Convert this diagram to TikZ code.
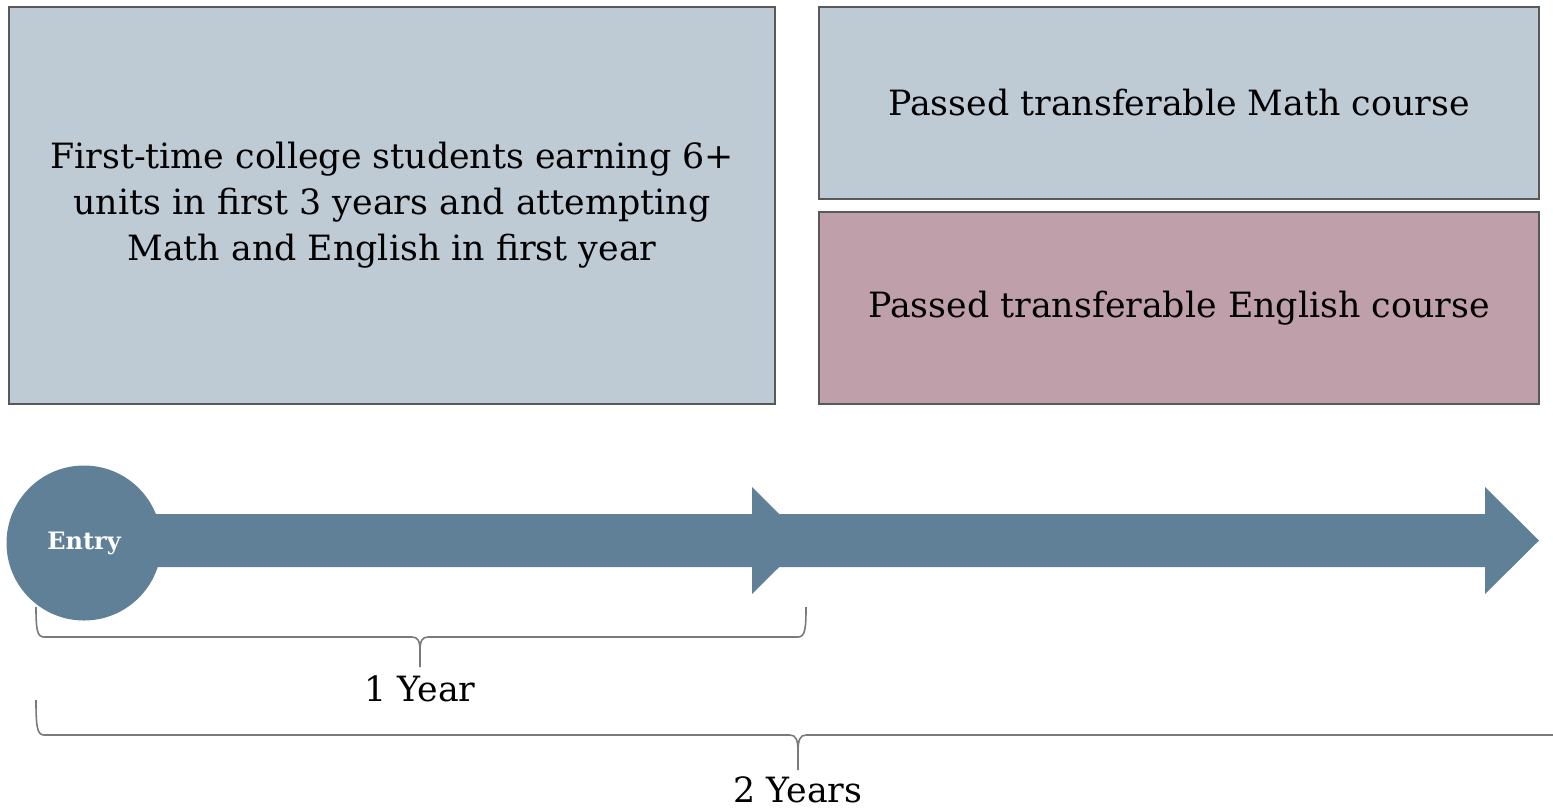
\documentclass[tikz,border=0pt]{standalone}
\usepackage{fontspec}
\setmainfont{DejaVu Serif}
\usepackage{xcolor}
\usetikzlibrary{positioning,calc}

\definecolor{boxblue}{HTML}{BECBD5}
\definecolor{boxpink}{HTML}{BE9FAA}
\definecolor{boxline}{HTML}{595959}
\definecolor{arrowblue}{HTML}{5F8096}
\definecolor{braceline}{HTML}{7A7A7A}

\begin{document}
\begin{tikzpicture}[x=0.5pt, y=-0.5pt,
    box/.style={draw=boxline, line width=1.1pt, rectangle, align=center, font=\fontsize{17.4}{23}\selectfont, inner sep=0pt},
    brace/.style={draw=braceline, line width=0.8pt},
    label/.style={font=\fontsize{17.4}{23}\selectfont, inner sep=0pt}]
    \useasboundingbox (0,0) rectangle (1553,810);

    \node [box, fill=boxblue, minimum width=383pt, minimum height=198.5pt] (cohort) at (392,205.5)
        {First-time college students earning 6+\\units in first 3 years and attempting\\Math and English in first year};
    \node [box, fill=boxblue, minimum width=360pt, minimum height=96pt] (math) at (1179,103) {Passed transferable Math course};
    \node [box, fill=boxpink, minimum width=360pt, minimum height=96pt] (english) at (1179,308) {Passed transferable English course};

    \fill [arrowblue] (84,514) -- (752,514) -- (752,487) -- (806,540.5) -- (752,594) -- (752,567) -- (84,567) -- cycle;
    \fill [arrowblue] (779,514) -- (1485,514) -- (1485,487) -- (1539,540.5) -- (1485,594) -- (1485,567) -- (779,567) -- cycle;
    \node [circle, fill=arrowblue, minimum size=77.5pt, inner sep=0pt, text=white, font=\fontsize{12}{14}\selectfont\bfseries] (entry) at (84,543) {Entry};

    \coordinate (yearA) at (36,607);
    \coordinate (yearB) at (806,607);
    \coordinate (yearTip) at (420,667);
    \draw [brace] (yearA) .. controls ($(yearA)+(0,22)$) and ($(yearA)+(1,30)$) .. ($(yearA)+(8,30)$)
        -- ($(yearTip)+(-8,-30)$) .. controls ($(yearTip)+(-2,-30)$) and ($(yearTip)+(0,-26)$) .. ($(yearTip)+(0,-16)$)
        -- (yearTip);
    \draw [brace] ($(yearTip)+(0,-16)$) .. controls ($(yearTip)+(0,-26)$) and ($(yearTip)+(2,-30)$) .. ($(yearTip)+(8,-30)$)
        -- ($(yearB)+(-8,30)$) .. controls ($(yearB)+(-1,30)$) and ($(yearB)+(0,22)$) .. (yearB);
    \node [label, below=4pt of yearTip] (oneyear) {1 Year};

    \coordinate (twoA) at (36,700);
    \coordinate (twoB) at (1560,700);
    \coordinate (twoTip) at (798,770);
    \draw [brace] (twoA) .. controls ($(twoA)+(0,26)$) and ($(twoA)+(1,35)$) .. ($(twoA)+(8,35)$)
        -- ($(twoTip)+(-8,-35)$) .. controls ($(twoTip)+(-2,-35)$) and ($(twoTip)+(0,-30)$) .. ($(twoTip)+(0,-18)$)
        -- (twoTip);
    \draw [brace] ($(twoTip)+(0,-18)$) .. controls ($(twoTip)+(0,-30)$) and ($(twoTip)+(2,-35)$) .. ($(twoTip)+(8,-35)$)
        -- ($(twoB)+(0,35)$);
    \node [label, below=3pt of twoTip] (twoyears) {2 Years};
\end{tikzpicture}
\end{document}
